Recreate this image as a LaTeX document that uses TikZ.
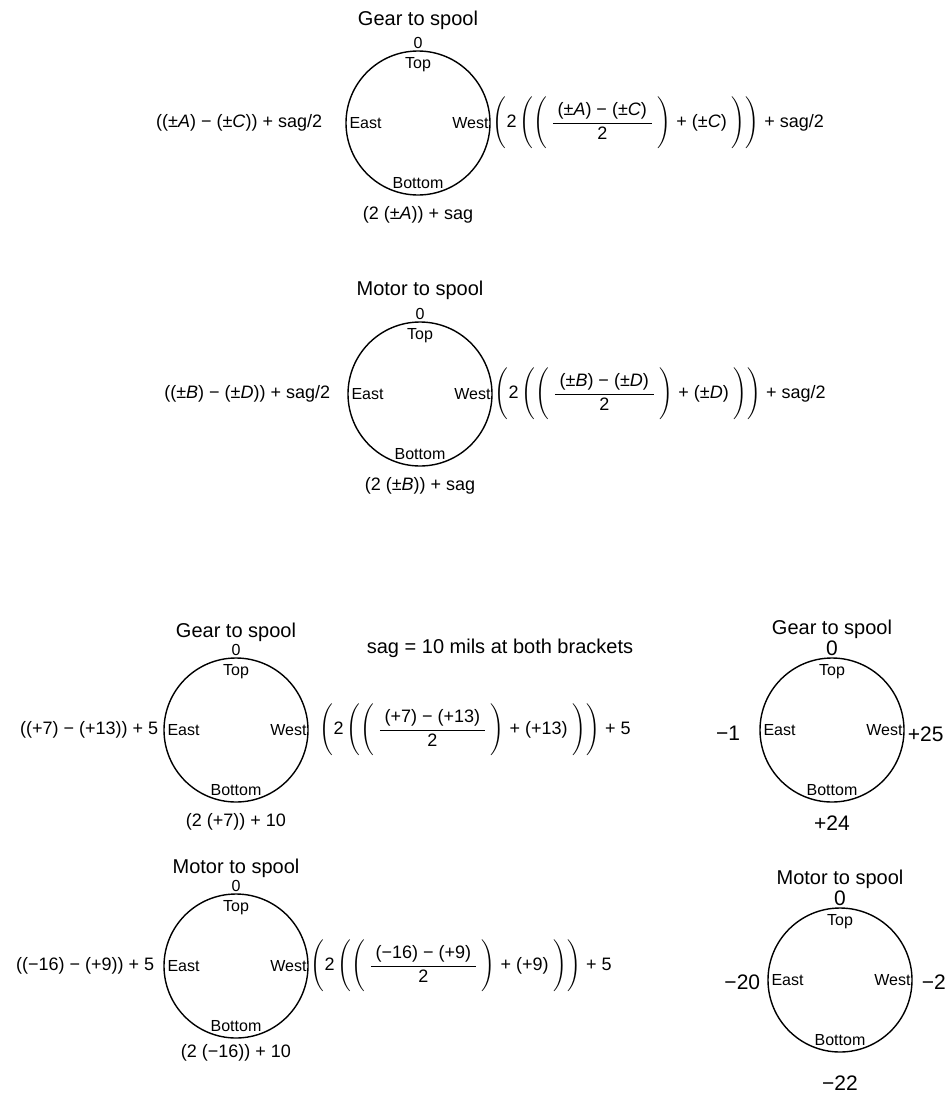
\documentclass[tikz,border=0pt]{standalone}
\usepackage{amsmath}
\usepackage{fontspec}
\setmainfont{Liberation Sans}
\usetikzlibrary{positioning}

\newcommand{\rexpr}[3]{$\Biggl(\text{2}\,\Biggl(\Biggl(\;\dfrac{\;\text{#1}\;}{\text{2}}\;\Biggr)\text{ + #2 }\Biggr)\Biggr)\text{ + #3}$}
\newcommand{\spoolring}[2]{%
  \node[ring] (#1) at (#2) {};
  \node[lbl,below=6pt of #1.north] (#1-top) {Top};
  \node[lbl,above=6pt of #1.south] (#1-bot) {Bottom};
  \node[lbl,right=3pt of #1.west] (#1-east) {East};
  \node[lbl,left=1pt of #1.east] (#1-west) {West};
}

\begin{document}
\begin{tikzpicture}[
  x=1pt,y=-1pt,
  ring/.style={circle,draw=black,line width=1.4pt,minimum size=144pt,inner sep=0pt},
  lbl/.style={font=\fontsize{16}{18}\selectfont,inner sep=1pt},
  ttl/.style={font=\fontsize{20}{23}\selectfont,inner sep=1pt},
  frm/.style={font=\fontsize{18}{21}\selectfont,inner sep=1pt},
  num/.style={font=\fontsize{16}{18}\selectfont,inner sep=1pt},
  val/.style={font=\fontsize{21}{24}\selectfont,inner sep=1pt}
]
\useasboundingbox (0,0) rectangle (951,1106);

\spoolring{gearA}{418,123}
\node[num,above=0pt of gearA.north] (gearA-zero) {0};
\node[ttl,above=6pt of gearA-zero] (gearA-title) {Gear to spool};
\node[frm,left=22pt of gearA.west] (gearA-left) {((±\textit{A}) − (±\textit{C})) + sag/2};
\node[frm,right=1pt of gearA.east] (gearA-right) {\rexpr{(±\textit{A}) − (±\textit{C})}{(±\textit{C})}{sag/2}};
\node[frm,below=10pt of gearA.south] (gearA-below) {(2 (±\textit{A})) + sag};

\spoolring{motorA}{420,394}
\node[num,above=0pt of motorA.north] (motorA-zero) {0};
\node[ttl,above=7pt of motorA-zero] (motorA-title) {Motor to spool};
\node[frm,left=16pt of motorA.west] (motorA-left) {((±\textit{B}) − (±\textit{D})) + sag/2};
\node[frm,right=1pt of motorA.east] (motorA-right) {\rexpr{(±\textit{B}) − (±\textit{D})}{(±\textit{D})}{sag/2}};
\node[frm,below=10pt of motorA.south] (motorA-below) {(2 (±\textit{B})) + sag};

\spoolring{gearN}{236,730}
\node[num,above=0pt of gearN.north] (gearN-zero) {0};
\node[ttl,above=1pt of gearN-zero] (gearN-title) {Gear to spool};
\node[frm,left=4pt of gearN.west] (gearN-left) {((+7) − (+13)) + 5};
\node[frm,right=10pt of gearN.east] (gearN-right) {\rexpr{(+7) − (+13)}{(+13)}{5}};
\node[frm,below=10pt of gearN.south] (gearN-below) {(2 (+7)) + 10};
\node[ttl] (sagnote) at (500,648) {sag = 10 mils at both brackets};

\spoolring{motorN}{236,966}
\node[num,above=0pt of motorN.north] (motorN-zero) {0};
\node[ttl,above=1pt of motorN-zero] (motorN-title) {Motor to spool};
\node[frm,left=8pt of motorN.west] (motorN-left) {((−16) − (+9)) + 5};
\node[frm,right=1pt of motorN.east] (motorN-right) {\rexpr{(−16) − (+9)}{(+9)}{5}};
\node[frm,below=5pt of motorN.south] (motorN-below) {(2 (−16)) + 10};

\spoolring{gearR}{832,730}
\node[val,above=0pt of gearR.north] (gearR-zero) {0};
\node[ttl,above=0pt of gearR-zero] (gearR-title) {Gear to spool};
\node[val,left=18pt of gearR.west,yshift=-3pt] (gearR-left) {−1};
\node[val,right=2pt of gearR.east,yshift=-4pt] (gearR-right) {+25};
\node[val,below=12pt of gearR.south] (gearR-below) {+24};

\spoolring{motorR}{840,980}
\node[val,above=0pt of motorR.north] (motorR-zero) {0};
\node[ttl,above=0pt of motorR-zero] (motorR-title) {Motor to spool};
\node[val,left=6pt of motorR.west,yshift=-2pt] (motorR-left) {−20};
\node[val,right=8pt of motorR.east,yshift=-2pt] (motorR-right) {−2};
\node[val,below=22pt of motorR.south] (motorR-below) {−22};
\end{tikzpicture}
\end{document}
